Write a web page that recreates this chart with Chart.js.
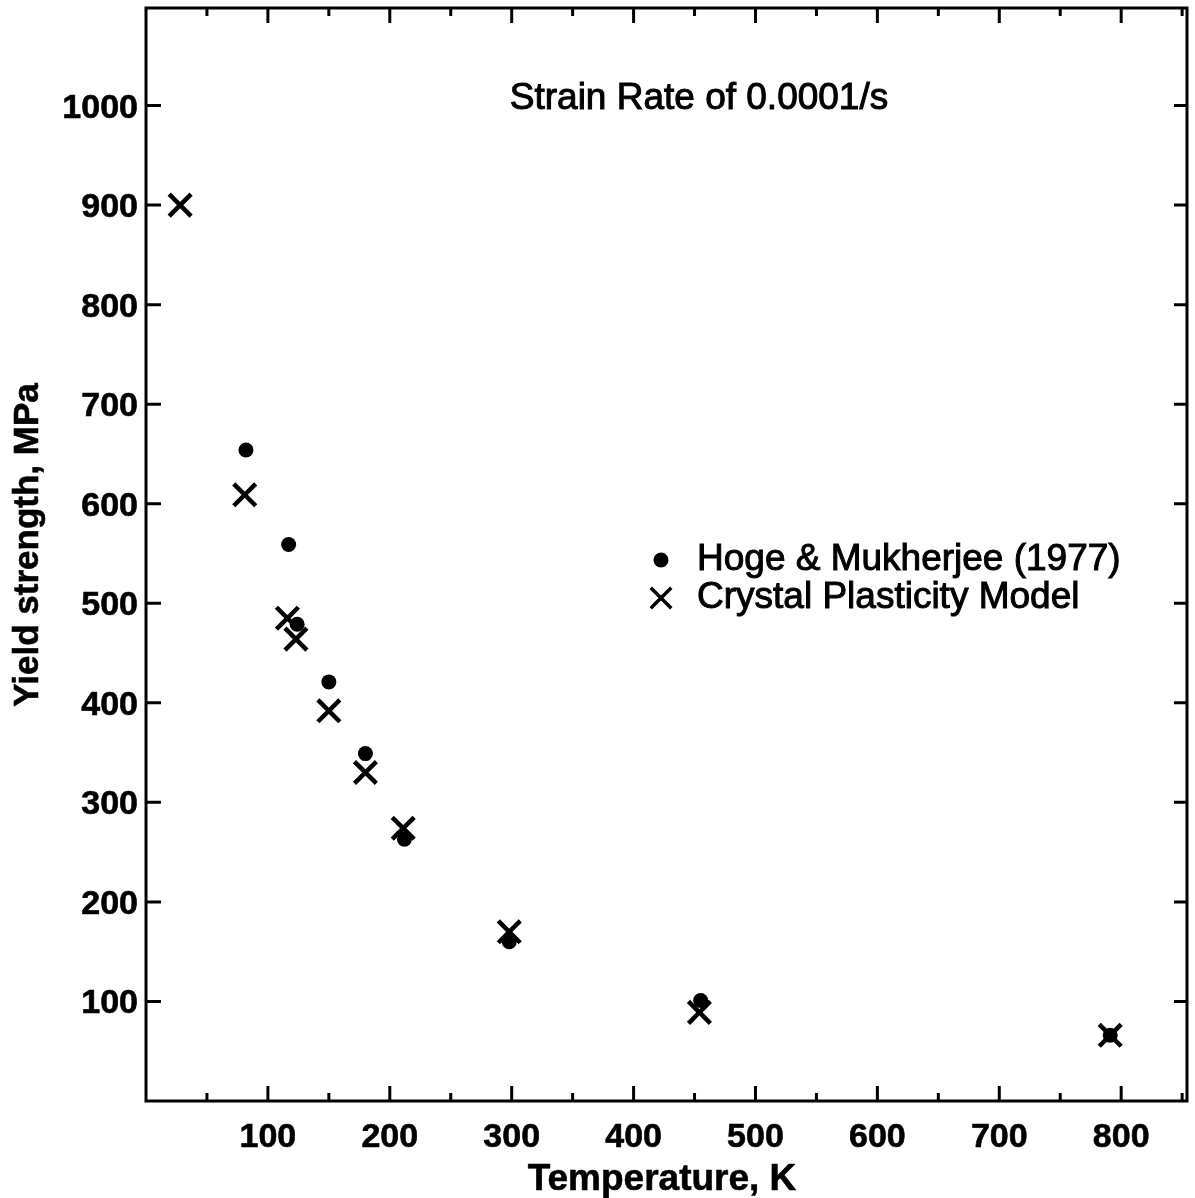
<!DOCTYPE html>
<html>
<head>
<meta charset="utf-8">
<script src="https://cdn.jsdelivr.net/npm/chart.js@4.4.1/dist/chart.umd.min.js"></script>
<style>
  html, body { margin: 0; padding: 0; background: #ffffff; }
  #wrap { width: 1195px; height: 1198px; }
  canvas { display: block; }
</style>
</head>
<body>
<div id="wrap"><canvas id="chart" width="1195" height="1198"></canvas></div>
<script>
// Yield strength vs temperature at a strain rate of 0.0001/s
const seriesNames = ['Hoge & Mukherjee (1977)', 'Crystal Plasticity Model'];

// Experimental points (Hoge & Mukherjee, 1977)
const hogeTemps = [82, 117, 124, 150, 180, 212, 298, 455, 791];
const hogeYield = [654, 559, 479, 421, 349, 263, 160, 101, 66];

// Crystal plasticity model predictions
const modelTemps = [28, 81, 116, 123, 150, 180, 211, 298, 454, 791];
const modelYield = [900, 609, 485, 464, 392, 330, 274, 170, 89, 66];

// Tick labels
const xTickLabels = [100, 200, 300, 400, 500, 600, 700, 800];
const yTickLabels = [100, 200, 300, 400, 500, 600, 700, 800, 900, 1000];

const noteText = 'Strain Rate of 0.0001/s';
const xTitle = 'Temperature, K';
const yTitle = 'Yield strength, MPa';

const FONT = '"Liberation Sans", Arial, Helvetica, sans-serif';

function toPoints(xs, ys) {
  return xs.map((x, i) => ({ x: x, y: ys[i] }));
}

// Frame with inward-pointing tick marks on all four sides
const frameTicks = {
  id: 'frameTicks',
  afterDatasetsDraw(chart) {
    const { ctx, chartArea: a, scales: { x, y } } = chart;
    ctx.save();
    ctx.strokeStyle = '#000';
    ctx.lineWidth = 3;
    ctx.lineCap = 'butt';
    ctx.strokeRect(a.left, a.top, a.right - a.left, a.bottom - a.top);

    // x ticks every 50, longer at labelled values
    for (let v = 50; v < x.max; v += 50) {
      const px = x.getPixelForValue(v);
      const len = (v % 100 === 0) ? 15 : 8;
      ctx.beginPath();
      ctx.moveTo(px, a.bottom);
      ctx.lineTo(px, a.bottom - len);
      ctx.moveTo(px, a.top);
      ctx.lineTo(px, a.top + len);
      ctx.stroke();
    }
    // y ticks at each labelled value
    yTickLabels.forEach(v => {
      const py = y.getPixelForValue(v);
      ctx.beginPath();
      ctx.moveTo(a.left, py);
      ctx.lineTo(a.left + 15, py);
      ctx.moveTo(a.right, py);
      ctx.lineTo(a.right - 13, py);
      ctx.stroke();
    });
    ctx.restore();
  }
};

// Tick labels and axis titles
const axisText = {
  id: 'axisText',
  afterDraw(chart) {
    const { ctx, chartArea: a, scales: { x, y } } = chart;
    ctx.save();
    ctx.fillStyle = '#000';
    ctx.strokeStyle = '#000';
    ctx.lineWidth = 0.6;
    ctx.font = 'bold 34px ' + FONT;
    ctx.textBaseline = 'alphabetic';

    ctx.textAlign = 'center';
    xTickLabels.forEach(v => {
      const px = x.getPixelForValue(v);
      ctx.fillText(String(v), px, a.bottom + 46);
      ctx.strokeText(String(v), px, a.bottom + 46);
    });

    ctx.textAlign = 'right';
    yTickLabels.forEach(v => {
      const py = y.getPixelForValue(v) + 12;
      ctx.fillText(String(v), a.left - 8, py);
      ctx.strokeText(String(v), a.left - 8, py);
    });

    ctx.font = 'bold 37px ' + FONT;
    ctx.textAlign = 'center';
    ctx.fillText(xTitle, 662, 1190);
    ctx.strokeText(xTitle, 662, 1190);

    ctx.font = 'bold 35px ' + FONT;
    ctx.translate(38, 545);
    ctx.rotate(-Math.PI / 2);
    ctx.fillText(yTitle, 0, 0);
    ctx.strokeText(yTitle, 0, 0);
    ctx.restore();
  }
};

// Annotation text and in-plot legend
const notes = {
  id: 'notes',
  afterDraw(chart) {
    const { ctx } = chart;
    ctx.save();
    ctx.fillStyle = '#000';
    ctx.strokeStyle = '#000';
    ctx.lineWidth = 1;
    ctx.font = '37px ' + FONT;
    ctx.textBaseline = 'middle';
    ctx.textAlign = 'center';
    ctx.fillText(noteText, 699, 99);
    ctx.strokeText(noteText, 699, 99);

    const ds = chart.data.datasets;
    const rows = [
      { y: 560, ds: ds[0], radius: 7.5, bw: 0 },
      { y: 598, ds: ds[1], radius: 14.5, bw: 3.5 }
    ];
    ctx.textAlign = 'left';
    rows.forEach(r => {
      ctx.save();
      ctx.fillStyle = '#000';
      ctx.strokeStyle = '#000';
      ctx.lineWidth = r.bw;
      Chart.helpers.drawPoint(ctx, {
        pointStyle: r.ds.pointStyle,
        radius: r.radius,
        rotation: 0,
        borderWidth: r.bw
      }, 661, r.y);
      ctx.restore();
      ctx.fillText(r.ds.label, 697, r.y);
      ctx.strokeText(r.ds.label, 697, r.y);
    });
    ctx.restore();
  }
};

new Chart(document.getElementById('chart'), {
  type: 'scatter',
  data: {
    datasets: [
      {
        label: seriesNames[0],
        data: toPoints(hogeTemps, hogeYield),
        pointStyle: 'circle',
        pointRadius: 7.5,
        pointBorderWidth: 0,
        backgroundColor: '#000',
        borderColor: '#000'
      },
      {
        label: seriesNames[1],
        data: toPoints(modelTemps, modelYield),
        pointStyle: 'crossRot',
        pointRadius: 15.5,
        pointBorderWidth: 4.5,
        backgroundColor: '#000',
        borderColor: '#000'
      }
    ]
  },
  options: {
    responsive: false,
    animation: false,
    devicePixelRatio: 1,
    layout: { autoPadding: false, padding: { left: 0, top: 8, right: 8, bottom: 0 } },
    plugins: { legend: { display: false }, tooltip: { enabled: false } },
    scales: {
      x: {
        type: 'linear',
        min: 0,
        max: 854,
        afterFit(scale) { scale.height = 97; },
        grid: { display: false, drawTicks: false },
        border: { display: false },
        ticks: { display: false, stepSize: 50 },
        title: { display: false, text: xTitle }
      },
      y: {
        type: 'linear',
        min: 0,
        max: 1098,
        afterFit(scale) { scale.width = 146; },
        grid: { display: false, drawTicks: false },
        border: { display: false },
        ticks: { display: false, stepSize: 100 },
        title: { display: false, text: yTitle }
      }
    }
  },
  plugins: [frameTicks, axisText, notes]
});
</script>
</body>
</html>
